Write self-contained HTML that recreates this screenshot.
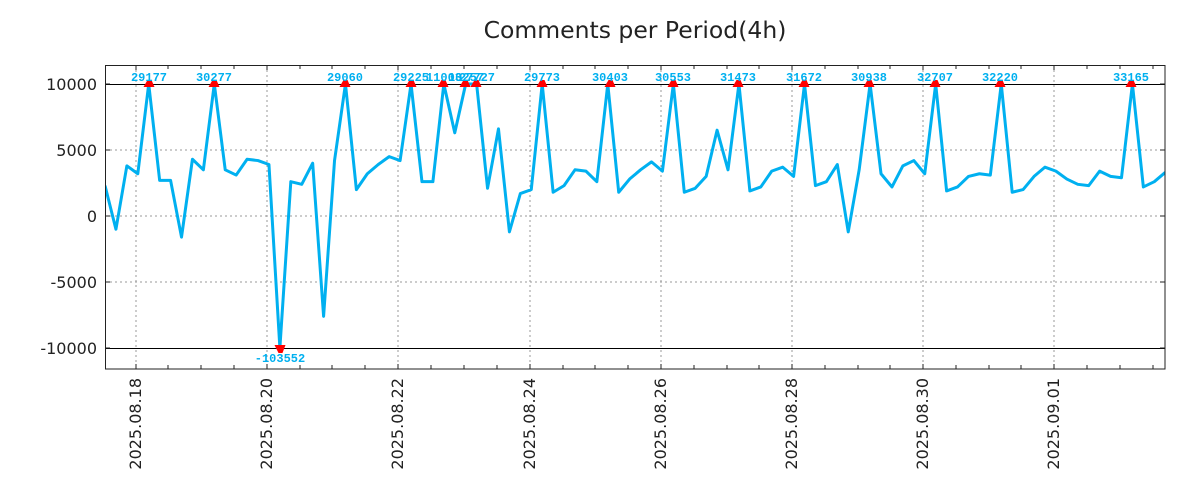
<!DOCTYPE html>
<html><head><meta charset="utf-8"><style>body{margin:0;background:#fff}svg{display:block}</style></head>
<body>
<svg width="1200" height="500" viewBox="0 0 1200 500" xmlns="http://www.w3.org/2000/svg" font-family="'DejaVu Sans','Liberation Sans',sans-serif">
<rect width="1200" height="500" fill="#fff"/>
<text x="635" y="38" font-size="23.5" text-anchor="middle" fill="#222">Comments per Period(4h)</text>
<g stroke="#999" stroke-width="1" stroke-dasharray="2,3">
<line x1="136" y1="65" x2="136" y2="369"/><line x1="267" y1="65" x2="267" y2="369"/>
<line x1="398" y1="65" x2="398" y2="369"/><line x1="530" y1="65" x2="530" y2="369"/>
<line x1="661" y1="65" x2="661" y2="369"/><line x1="792" y1="65" x2="792" y2="369"/>
<line x1="923" y1="65" x2="923" y2="369"/><line x1="1054" y1="65" x2="1054" y2="369"/>
<line x1="105" y1="150" x2="1165" y2="150"/><line x1="105" y1="216" x2="1165" y2="216"/>
<line x1="105" y1="282" x2="1165" y2="282"/>
</g>
<g stroke="#000" stroke-width="1">
<line x1="105" y1="84.5" x2="1165" y2="84.5"/><line x1="105" y1="348.5" x2="1165" y2="348.5"/>
</g>
<g stroke="#222" stroke-width="1">
<path d="M136 369v-5M168 369v-4M201 369v-4M234 369v-4M267 369v-5M300 369v-4M332 369v-4M365 369v-4M398 369v-5M431 369v-4M464 369v-4M497 369v-4M530 369v-5M563 369v-4M595 369v-4M628 369v-4M661 369v-5M694 369v-4M727 369v-4M759 369v-4M792 369v-5M825 369v-4M858 369v-4M890 369v-4M923 369v-5M956 369v-4M989 369v-4M1021 369v-4M1054 369v-5M1087 369v-4M1120 369v-4M1153 369v-4"/>
<path d="M136 65v5M168 65v4M201 65v4M234 65v4M267 65v5M300 65v4M332 65v4M365 65v4M398 65v5M431 65v4M464 65v4M497 65v4M530 65v5M563 65v4M595 65v4M628 65v4M661 65v5M694 65v4M727 65v4M759 65v4M792 65v5M825 65v4M858 65v4M890 65v4M923 65v5M956 65v4M989 65v4M1021 65v4M1054 65v5M1087 65v4M1120 65v4M1153 65v4"/>
<path d="M105 84h5M105 150h5M105 216h5M105 282h5M105 348h5M1165 84h-5M1165 150h-5M1165 216h-5M1165 282h-5M1165 348h-5"/>
</g>
<svg x="105" y="65" width="1060" height="304" viewBox="105 65 1060 304" overflow="hidden">
<polyline fill="none" stroke="#00b0f0" stroke-width="3" stroke-linejoin="round" vector-effect="non-scaling-stroke" transform="matrix(10.93,0,0,-0.0132,105,216)" points="0,2300 1,-1000 2,3800 3,3200 4,10000 5,2700 6,2700 7,-1600 8,4300 9,3500 10,10000 11,3500 12,3100 13,4300 14,4200 15,3900 16,-10000 17,2600 18,2400 19,4000 20,-7600 21,4200 22,10000 23,2000 24,3200 25,3900 26,4500 27,4200 28,10000 29,2600 30,2600 31,10000 32,6300 33,10000 34,10000 35,2100 36,6600 37,-1200 38,1700 39,2000 40,10000 41,1800 42,2300 43,3500 44,3400 45,2600 46,10000 47,1800 48,2800 49,3500 50,4100 51,3400 52,10000 53,1800 54,2100 55,3000 56,6500 57,3500 58,10000 59,1900 60,2200 61,3400 62,3700 63,3000 64,10000 65,2300 66,2600 67,3900 68,-1200 69,3500 70,10000 71,3200 72,2200 73,3800 74,4200 75,3200 76,10000 77,1900 78,2200 79,3000 80,3200 81,3100 82,10000 83,1800 84,2000 85,3000 86,3700 87,3400 88,2800 89,2400 90,2300 91,3400 92,3000 93,2900 94,10000 95,2200 96,2600 97,3300"/>
</svg>
<rect x="105.5" y="65.5" width="1059.5" height="303.5" fill="none" stroke="#222" stroke-width="1"/>
<g fill="#f00">
<polygon points="143.5,87 154.5,87 151.5,80 147.5,80"/>
<polygon points="208.5,87 219.5,87 216.5,80 212.5,80"/>
<polygon points="339.5,87 350.5,87 347.5,80 343.5,80"/>
<polygon points="405.5,87 416.5,87 413.5,80 409.5,80"/>
<polygon points="437.5,87 448.5,87 445.5,80 441.5,80"/>
<polygon points="459.5,87 470.5,87 467.5,80 463.5,80"/>
<polygon points="470.5,87 481.5,87 478.5,80 474.5,80"/>
<polygon points="536.5,87 547.5,87 544.5,80 540.5,80"/>
<polygon points="604.5,87 615.5,87 612.5,80 608.5,80"/>
<polygon points="667.5,87 678.5,87 675.5,80 671.5,80"/>
<polygon points="732.5,87 743.5,87 740.5,80 736.5,80"/>
<polygon points="798.5,87 809.5,87 806.5,80 802.5,80"/>
<polygon points="863.5,87 874.5,87 871.5,80 867.5,80"/>
<polygon points="929.5,87 940.5,87 937.5,80 933.5,80"/>
<polygon points="994.5,87 1005.5,87 1002.5,80 998.5,80"/>
<polygon points="1125.5,87 1136.5,87 1133.5,80 1129.5,80"/>
<polygon points="274.5,345 285.5,345 282.5,353 278.5,353"/>
</g>
<g fill="#00b0f0" font-family="'Liberation Mono',monospace" font-weight="bold" font-size="12" text-anchor="middle">
<text x="149" y="81">29177</text><text x="214" y="81">30277</text><text x="345" y="81">29060</text>
<text x="411" y="81">29225</text><text x="444" y="81">11003</text><text x="466" y="81">10257</text><text x="477" y="81">27727</text>
<text x="542" y="81">29773</text><text x="610" y="81">30403</text><text x="673" y="81">30553</text>
<text x="738" y="81">31473</text><text x="804" y="81">31672</text><text x="869" y="81">30938</text>
<text x="935" y="81">32707</text><text x="1000" y="81">32220</text><text x="1131" y="81">33165</text>
<text x="280" y="362">-103552</text>
</g>
<g font-size="16" fill="#222" text-anchor="end">
<text x="97" y="90">10000</text><text x="97" y="156">5000</text><text x="97" y="222">0</text>
<text x="97" y="288">-5000</text><text x="97" y="354">-10000</text>
</g>
<g font-size="16" fill="#222" text-anchor="end">
<text transform="translate(141,378) rotate(-90)">2025.08.18</text>
<text transform="translate(272,378) rotate(-90)">2025.08.20</text>
<text transform="translate(403,378) rotate(-90)">2025.08.22</text>
<text transform="translate(535,378) rotate(-90)">2025.08.24</text>
<text transform="translate(666,378) rotate(-90)">2025.08.26</text>
<text transform="translate(797,378) rotate(-90)">2025.08.28</text>
<text transform="translate(928,378) rotate(-90)">2025.08.30</text>
<text transform="translate(1059,378) rotate(-90)">2025.09.01</text>
</g>
</svg>
</body></html>
